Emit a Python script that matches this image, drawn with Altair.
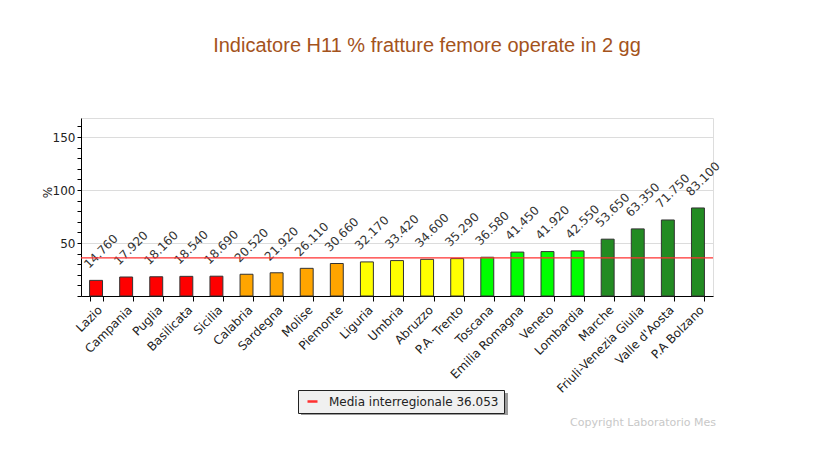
import altair as alt
import pandas as pd

regions = ["Lazio", "Campania", "Puglia", "Basilicata", "Sicilia", "Calabria",
           "Sardegna", "Molise", "Piemonte", "Liguria", "Umbria", "Abruzzo",
           "P.A. Trento", "Toscana", "Emilia Romagna", "Veneto", "Lombardia",
           "Marche", "Friuli-Venezia Giulia", "Valle d'Aosta", "P.A Bolzano"]
values = [14.760, 17.920, 18.160, 18.540, 18.690, 20.520, 21.920, 26.110,
          30.660, 32.170, 33.420, 34.600, 35.290, 36.580, 41.450, 41.920,
          42.550, 53.650, 63.350, 71.750, 83.100]
colors = ["#ff0000"] * 5 + ["#ffa500"] * 4 + ["#ffff00"] * 4 + ["#00ff00"] * 4 + ["#228b22"] * 4
mean_value = 36.053
mean_label = "Media interregionale 36.053"
y_ticks = [0, 10, 20, 30, 40, 50, 60, 70, 80, 90, 100, 110, 120, 130, 140, 150, 160]

df = pd.DataFrame({"region": regions, "value": values, "color": colors})
mean_df = pd.DataFrame({"value": [mean_value], "series": [mean_label]})

FONT = "DejaVu Sans"

x_enc = alt.X("region:N", sort=regions, title=None,
              scale=alt.Scale(paddingInner=0.57, paddingOuter=0.285),
              axis=alt.Axis(labelAngle=-45, labelAlign="right", labelBaseline="top",
                            labelFont=FONT, labelFontSize=12, labelColor="#222",
                            tickBand="extent", tickSize=5, tickColor="#000",
                            domainColor="#000", labelPadding=3))
y_axis = alt.Axis(values=y_ticks, tickCount=17,
                  labelExpr="datum.value % 50 == 0 && datum.value > 0 ? datum.label : ''",
                  gridOpacity={"condition": {"test": "datum.value % 50 == 0 && datum.value > 0", "value": 1}, "value": 0},
                  gridColor="#dcdcdc", tickSize=4, tickColor="#000",
                  domainColor="#000", labelFont=FONT, labelFontSize=12,
                  labelColor="#222", titleFont=FONT, titleFontSize=12,
                  titleFontWeight="normal", titleColor="#222",
                  titleX=-27, titleY=74)
y_enc = alt.Y("value:Q", title="%",
              scale=alt.Scale(domain=[0, 168], nice=False), axis=y_axis)

bars = alt.Chart(df).mark_bar(stroke="#333333", strokeWidth=1).encode(
    x=x_enc, y=y_enc, fill=alt.Fill("color:N", scale=None)
)

labels = alt.Chart(df).mark_text(
    angle=315, align="left", baseline="alphabetic", dx=3, dy=-13,
    font=FONT, fontSize=12, color="#333333"
).encode(x=x_enc, y=y_enc, text=alt.Text("value:Q", format=".3f"))

shadow = alt.Chart(mean_df).mark_rect(color="#9a9a9a").encode(
    x=alt.value(220), x2=alt.value(427), y=alt.value(275), y2=alt.value(297)
)

rule = alt.Chart(mean_df).mark_rule(strokeWidth=1.2).encode(
    y=y_enc,
    color=alt.Color("series:N", scale=alt.Scale(range=["#ff3030"]),
                    legend=alt.Legend(title=None, orient="none", legendX=217, legendY=272,
                                      symbolType="stroke", symbolStrokeWidth=2.5, symbolSize=100,
                                      symbolOffset=3,
                                      labelFont=FONT, labelFontSize=12, labelColor="#222",
                                      labelLimit=0, labelOffset=10, fillColor="#f0f0f0",
                                      strokeColor="#222", padding=5))
)

copyright_txt = alt.Chart(mean_df).mark_text(
    text="Copyright Laboratorio Mes", align="right", baseline="middle",
    font=FONT, fontSize=11, color="#c8c8c8"
).encode(x=alt.value(635), y=alt.value(305))

chart = alt.layer(shadow, bars, labels, rule, copyright_txt).properties(
    width=632, height=178,
    title=alt.TitleParams("Indicatore H11 % fratture femore operate in 2 gg",
                          font="Liberation Sans", fontSize=20, fontWeight="normal",
                          color="#a4531c", anchor="middle", dx=30, offset=62),
    autosize=alt.AutoSizeParams(type="none"),
    padding={"left": 73, "top": 110, "right": 115, "bottom": 140},
).configure_view(fill="#f5f5f5", stroke=None).configure(background="white")

chart.save("out.html", embed_options={"renderer": "svg", "actions": False})
